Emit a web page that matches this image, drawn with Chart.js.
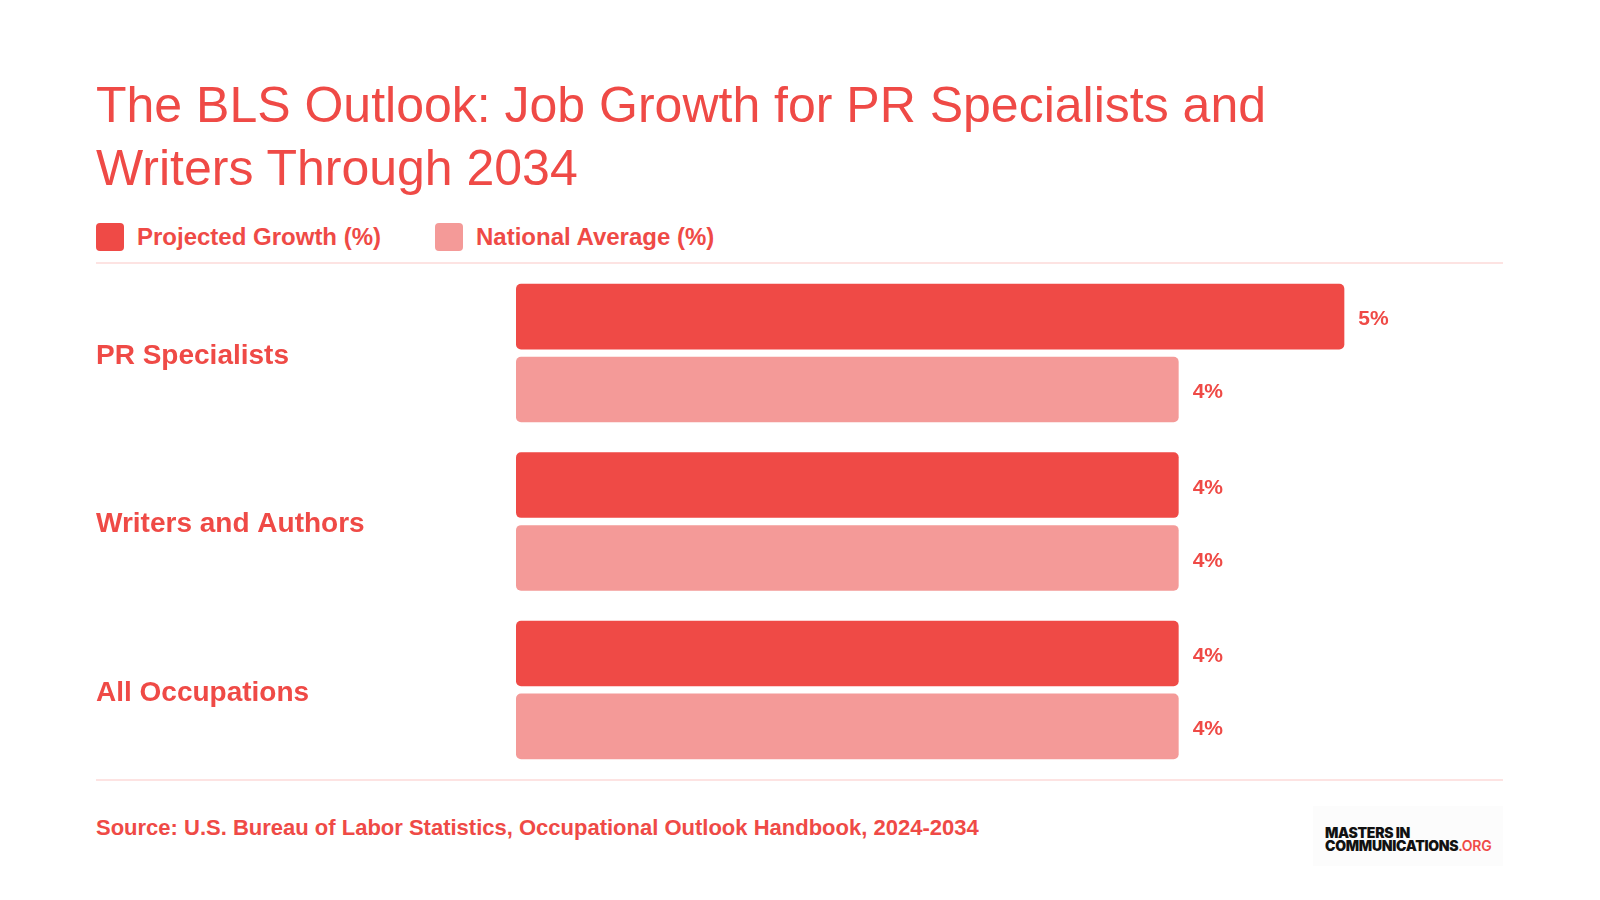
<!DOCTYPE html>
<html>
<head>
<meta charset="utf-8">
<script src="https://cdn.jsdelivr.net/npm/chart.js@4"></script>
<style>
  html, body { margin: 0; padding: 0; background: #fff; }
  body { width: 1600px; height: 900px; position: relative; overflow: hidden; font-family: "Liberation Sans", Arial, sans-serif; color: #ef4a46; }
  .title { position: absolute; left: 96px; top: 74px; font-size: 50px; line-height: 63px; font-weight: 400; margin: 0; }
  .legend { position: absolute; left: 96px; top: 223px; display: flex; align-items: center; font-weight: 700; font-size: 24px; }
  .legend .item { display: flex; align-items: center; margin-right: 54px; }
  .legend .swatch { width: 28px; height: 28px; border-radius: 4px; margin-right: 13px; }
  .rule { position: absolute; left: 96px; width: 1407px; height: 2px; background: #fde3e2; }
  .chart-box { position: absolute; left: 96px; top: 252px; width: 1414px; height: 539px; }
  .source { position: absolute; left: 96px; top: 815px; font-weight: 700; font-size: 22px; }
  .logo { position: absolute; left: 1313px; top: 806px; width: 190px; height: 60px; background: #fcfcfc; }
  .logo div { position: absolute; left: 12px; top: 20px; font-family: Inter, "DejaVu Sans", sans-serif; font-weight: 900; font-size: 14px; line-height: 13px; color: #111; letter-spacing: -0.3px; }
  .logo span { color: #ef4a46; font-weight: 600; }
</style>
</head>
<body>
<h1 class="title">The BLS Outlook: Job Growth for PR Specialists and<br>Writers Through 2034</h1>
<div class="legend">
  <div class="item"><div class="swatch" style="background:#ef4a46"></div>Projected Growth (%)</div>
  <div class="item"><div class="swatch" style="background:#f49a98"></div>National Average (%)</div>
</div>
<div class="rule" style="top:262px"></div>
<div class="chart-box"><canvas id="bls-chart"></canvas></div>
<div class="rule" style="top:779px"></div>
<div class="source">Source: U.S. Bureau of Labor Statistics, Occupational Outlook Handbook, 2024-2034</div>
<div class="logo"><div>MASTERS IN<br>COMMUNICATIONS<span>.ORG</span></div></div>
<script>
// Data
const occupations = ['PR Specialists', 'Writers and Authors', 'All Occupations'];
const projectedGrowth = [5, 4, 4];
const nationalAverage = [4, 4, 4];

const RED = '#ef4a46';
const PINK = '#f49a98';

// Draw "x%" next to each bar
const valueLabels = {
    id: 'valueLabels',
    afterDatasetsDraw(chart) {
        const ctx = chart.ctx;
        ctx.save();
        ctx.font = 'bold 21px "Liberation Sans", Arial, sans-serif';
        ctx.fillStyle = RED;
        ctx.textBaseline = 'middle';
        ctx.textAlign = 'left';
        chart.data.datasets.forEach((ds, i) => {
            chart.getDatasetMeta(i).data.forEach((bar, j) => {
                ctx.fillText(ds.data[j] + '%', bar.x + 14, bar.y + 3);
            });
        });
        ctx.restore();
    }
};

const ctx = document.getElementById('bls-chart').getContext('2d');
const chart = new Chart(ctx, {
    type: 'bar',
    data: {
        labels: occupations,
        datasets: [{
            label: 'Projected Growth (%)',
            data: projectedGrowth,
            backgroundColor: RED,
            borderRadius: 5,
            borderSkipped: false
        }, {
            label: 'National Average (%)',
            data: nationalAverage,
            backgroundColor: PINK,
            borderRadius: 5,
            borderSkipped: false
        }]
    },
    options: {
        indexAxis: 'y',
        responsive: true,
        maintainAspectRatio: false,
        animation: false,
        categoryPercentage: 0.866,
        barPercentage: 0.9,
        layout: { padding: 0 },
        plugins: {
            legend: { display: false },
            tooltip: { enabled: false }
        },
        scales: {
            x: { min: 0, max: 6, display: false },
            y: {
                grid: { display: false },
                border: { display: false },
                ticks: {
                    color: RED,
                    font: { family: '"Liberation Sans", Arial, sans-serif', size: 28, weight: 'bold' },
                    crossAlign: 'far',
                    padding: 0,
                    labelOffset: 3
                },
                afterFit: (scale) => { scale.width = 420; }
            }
        }
    },
    plugins: [valueLabels]
});
</script>
</body>
</html>
